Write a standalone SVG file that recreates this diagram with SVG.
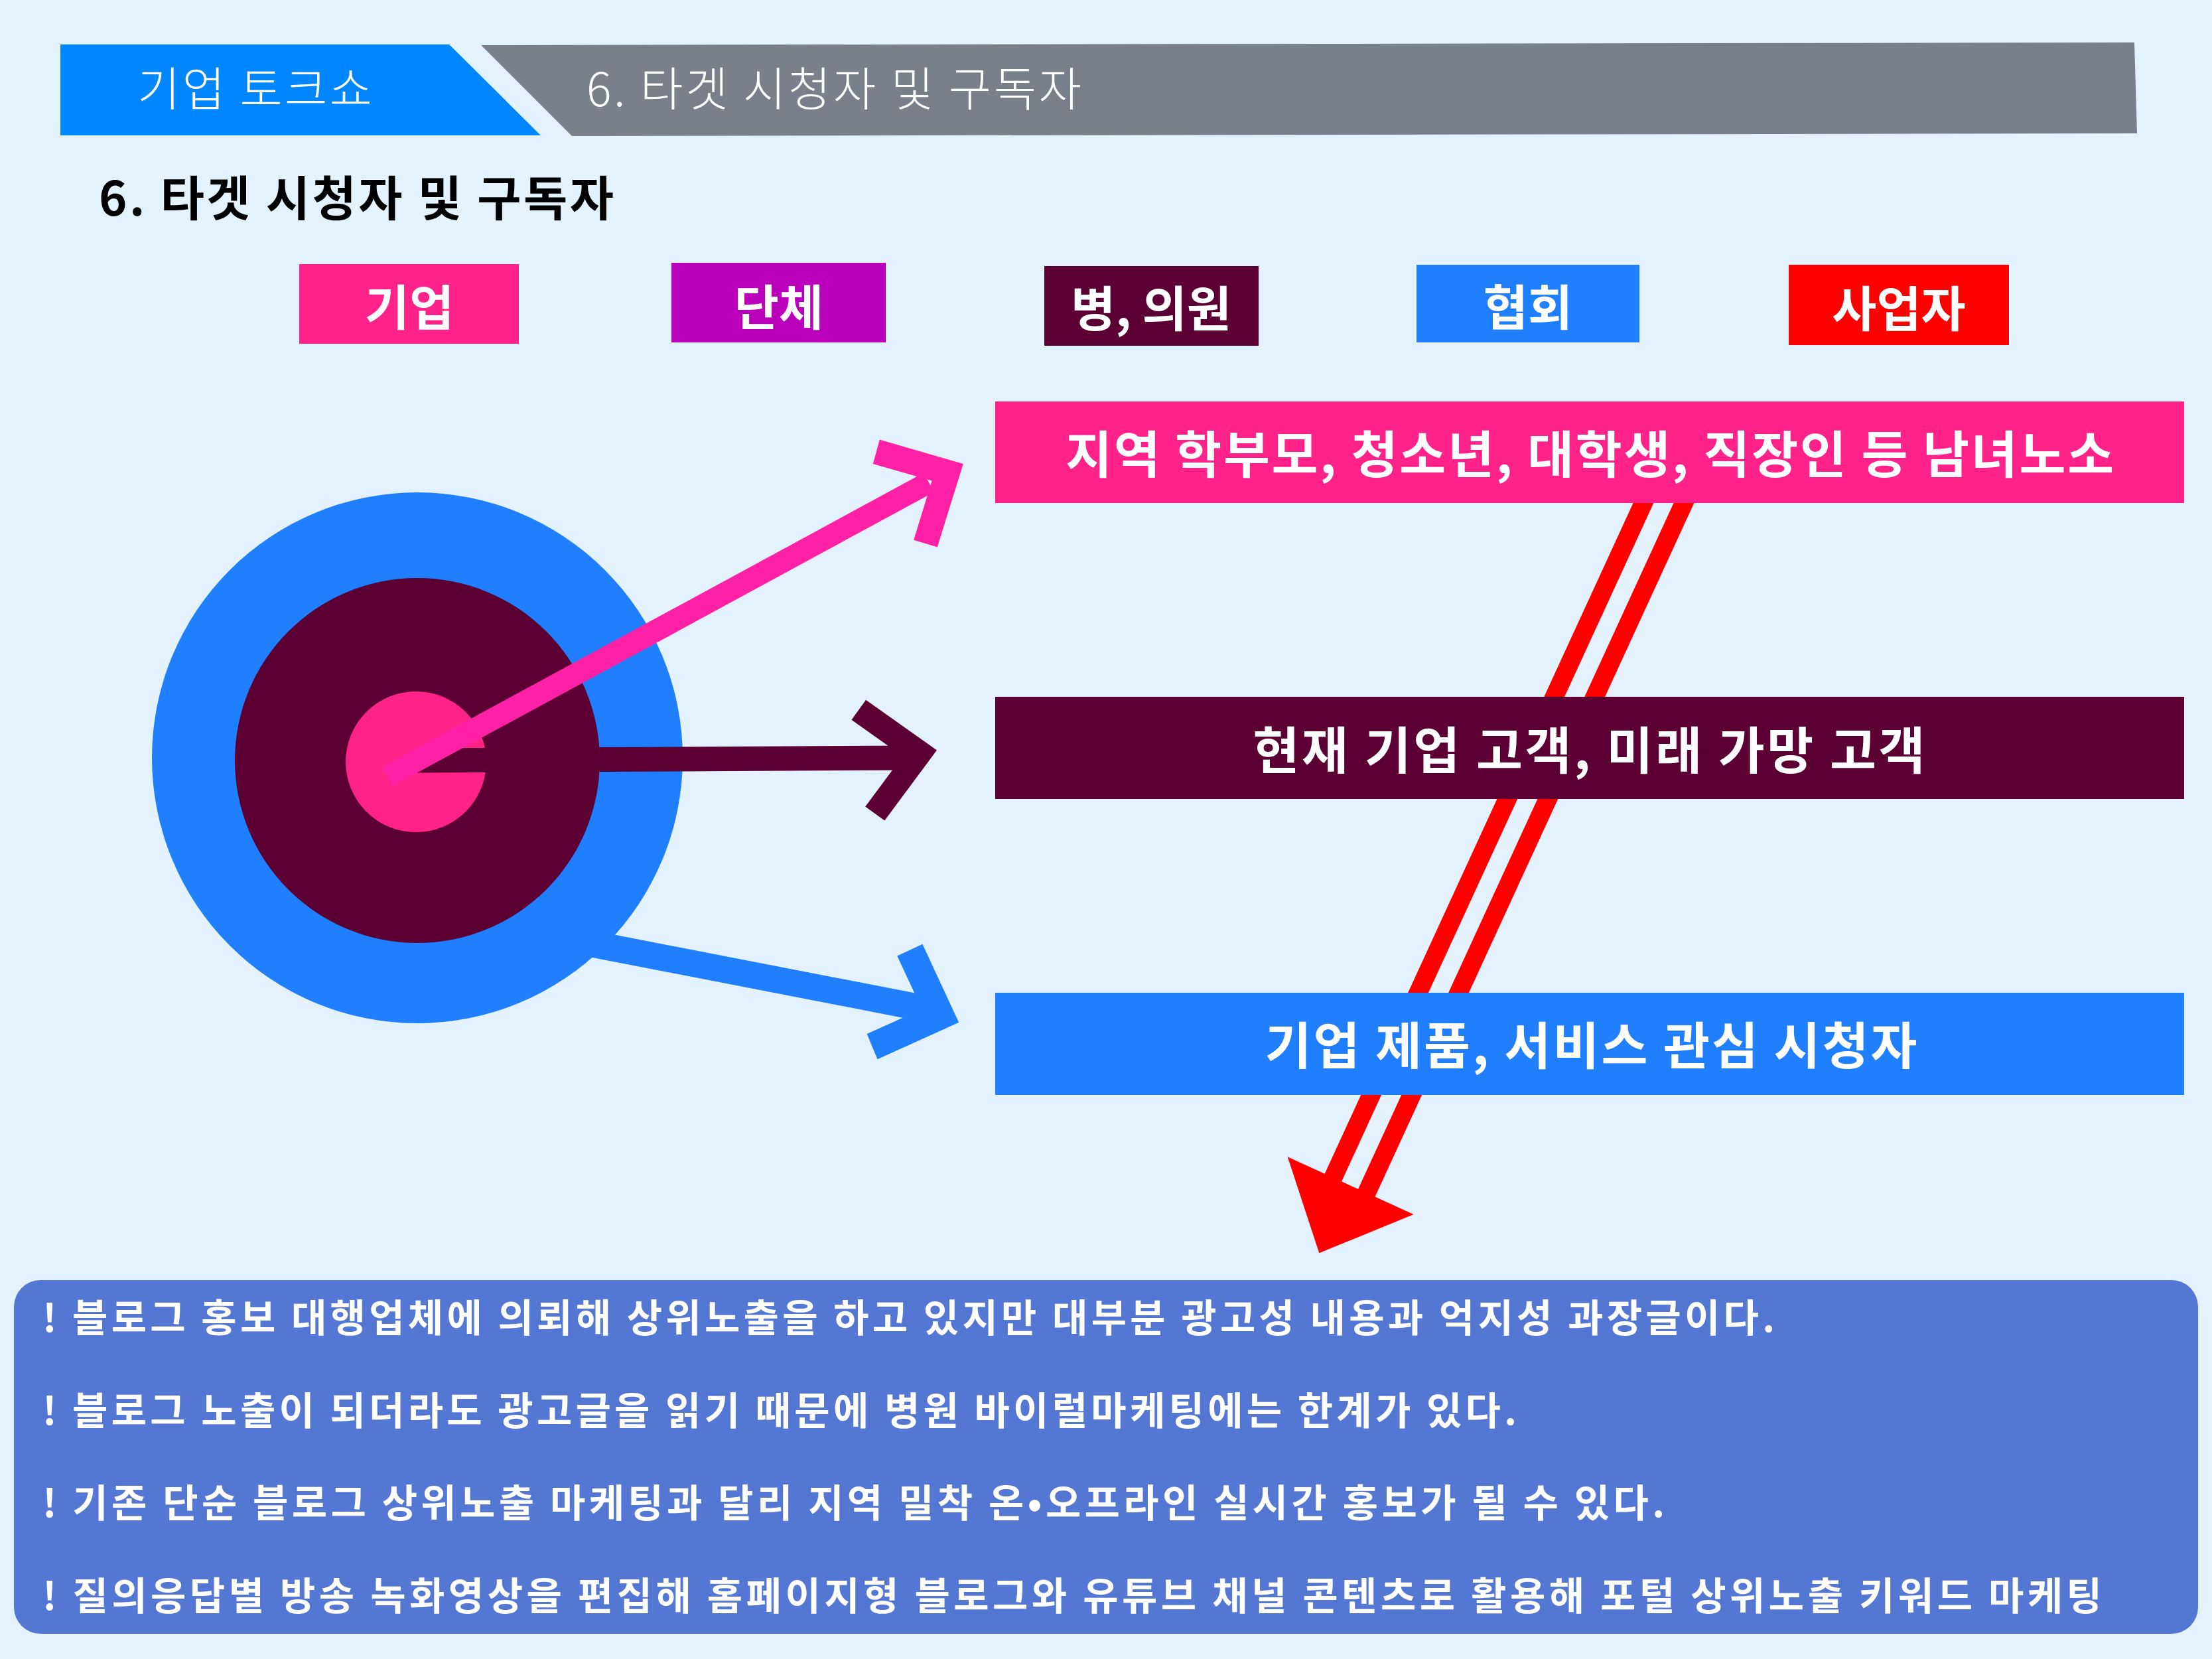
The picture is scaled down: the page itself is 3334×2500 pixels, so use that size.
<svg xmlns="http://www.w3.org/2000/svg" width="3334" height="2500" viewBox="0 0 3334 2500">
<style>
text{font-family:"Noto Sans CJK KR","Noto Sans",sans-serif;fill:#fff}
.b{font-weight:700}
.lt{font-weight:300}
.cat{font-size:73px;font-weight:700;text-anchor:middle}
.big{font-size:76px;font-weight:700;text-anchor:middle}
.body{font-size:58px;font-weight:700}
</style>
<rect x="0" y="0" width="3334" height="2500" fill="#E4F2FD"/>
<g id="header">
<polygon points="91,67 677,67 815,204 91,204" fill="#0086FF"/>
<polygon points="725,68 3217,64 3221,201 862,205" fill="#7A8089"/>
<text class="lt" x="207" y="160" font-size="70" textLength="354" lengthAdjust="spacing">기업 토크쇼</text>
<text class="lt" x="884" y="160" font-size="70" textLength="746" lengthAdjust="spacing">6. 타겟 시청자 및 구독자</text>
</g>
<g id="title">
<text class="b" x="149" y="325" font-size="72" style="fill:#000" textLength="776" lengthAdjust="spacing">6. 타겟 시청자 및 구독자</text>
</g>
<g id="cat-giup"><rect x="451" y="398" width="331" height="120" fill="#FF2288"/><text class="cat" x="617" y="490">기업</text></g>
<g id="cat-danche"><rect x="1012" y="396" width="323" height="120" fill="#BB00BB"/><text class="cat" x="1174" y="490">단체</text></g>
<g id="cat-hospital"><rect x="1574" y="401" width="323" height="120" fill="#5C0033"/><text class="cat" x="1735" y="492">병, 의원</text></g>
<g id="cat-assoc"><rect x="2135" y="399" width="336" height="117" fill="#1F7FFF"/><text class="cat" x="2303" y="490">협회</text></g>
<g id="cat-biz"><rect x="2696" y="399" width="332" height="121" fill="#FF0000"/><text class="cat" x="2862" y="492">사업자</text></g>
<g id="connectors-red">
<line x1="2526.7" y1="650" x2="2002.3" y2="1790" stroke="#FF0000" stroke-width="28"/>
<line x1="2587.7" y1="650" x2="2044.9" y2="1830" stroke="#FF0000" stroke-width="28"/>
<polygon points="1940.7,1743.3 2130.7,1830 1988.3,1888.3" fill="#FF0000"/>
</g>
<g id="box-local"><rect x="1500" y="605" width="1792" height="153" fill="#FF2288"/><text class="big" x="2396" y="713" textLength="1580" lengthAdjust="spacing">지역 학부모, 청소년, 대학생, 직장인 등 남녀노소</text></g>
<g id="box-customer"><rect x="1500" y="1050" width="1792" height="154" fill="#5C0033"/><text class="big" x="2395" y="1159" textLength="1013" lengthAdjust="spacing">현재 기업 고객, 미래 가망 고객</text></g>
<g id="box-viewer"><rect x="1500" y="1496" width="1792" height="154" fill="#1F7FFF"/><text class="big" x="2398" y="1604" textLength="983" lengthAdjust="spacing">기업 제품, 서비스 관심 시청자</text></g>
<g id="target">
<circle cx="629" cy="1142" r="400" fill="#1F7FFF"/>
<circle cx="629" cy="1146" r="275" fill="#5C0033"/>
<circle cx="627" cy="1148" r="106" fill="#FF2288"/>
</g>
<g id="connectors">
<line x1="880" y1="1420" x2="1390" y2="1519" stroke="#1F7FFF" stroke-width="40"/>
<polygon points="1390.4,1422.8 1445.2,1540.8 1322.5,1596.2 1306.7,1558 1389.6,1520.7 1352.3,1440.6" fill="#1F7FFF"/>
<line x1="629" y1="1146" x2="1370" y2="1142" stroke="#5C0033" stroke-width="37"/>
<polygon points="1305.1,1054.8 1412,1130.6 1333.3,1236.5 1304.2,1215.5 1360.6,1139.6 1283.5,1084.7" fill="#5C0033"/>
<line x1="584" y1="1170" x2="1400" y2="727" stroke="#FF21A5" stroke-width="33"/>
<polygon points="1325.8,662.5 1451.8,698.9 1412.8,824.5 1377.2,813.7 1404.6,724.4 1315.8,698.9" fill="#FF21A5"/>
</g>
<g id="notes">
<rect x="21" y="1929" width="3292" height="533" rx="40" ry="40" fill="#5577D4"/>
<text class="body" x="64" y="2007" textLength="2611" lengthAdjust="spacing">! 블로그 홍보 대행업체에 의뢰해 상위노출을 하고 있지만 대부분 광고성 내용과 억지성 과장글이다.</text>
<text class="body" x="64" y="2147" textLength="2222" lengthAdjust="spacing">! 블로그 노출이 되더라도 광고글을 읽기 때문에 병원 바이럴마케팅에는 한계가 있다.</text>
<text class="body" x="64" y="2286" textLength="2445" lengthAdjust="spacing">! 기존 단순 블로그 상위노출 마케팅과 달리 지역 밀착 온•오프라인 실시간 홍보가 될 수 있다.</text>
<text class="body" x="64" y="2426" textLength="3104" lengthAdjust="spacing">! 질의응답별 방송 녹화영상을 편집해 홈페이지형 블로그와 유튜브 채널 콘텐츠로 활용해 포털 상위노출 키워드 마케팅</text>
</g>
</svg>
